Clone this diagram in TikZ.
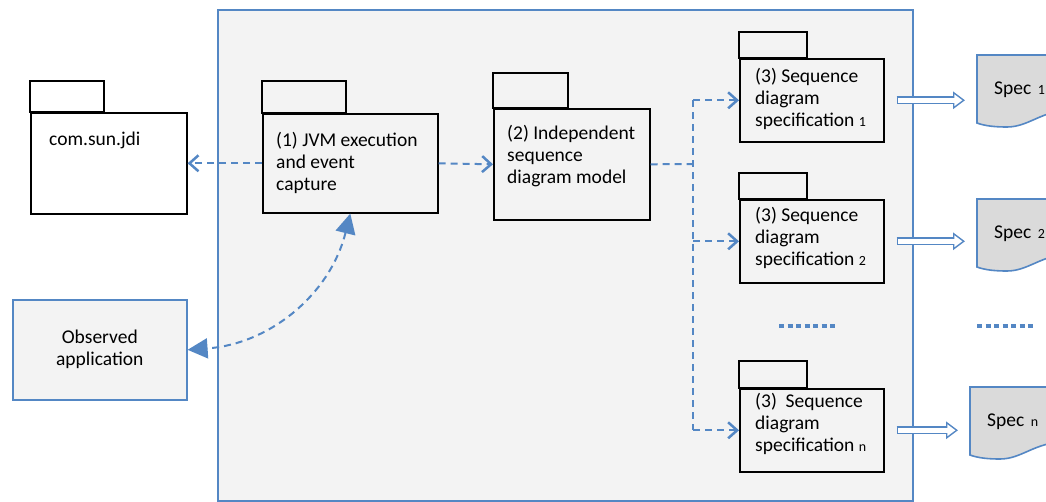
\documentclass[tikz,border=0pt]{standalone}
\usepackage{fontspec}
\setmainfont{Carlito}
\usetikzlibrary{arrows.meta}
\definecolor{linkblue}{RGB}{84,135,196}
\definecolor{panelgray}{RGB}{243,243,243}
\definecolor{docgray}{RGB}{218,218,218}
\newcommand{\idx}[1]{{\fontsize{14}{16}\selectfont #1}}

\begin{document}
\begin{tikzpicture}[x=1pt,y=-1pt,font=\fontsize{19.5}{22}\selectfont,
  pkg/.style={draw=black,line width=1.6pt,fill=panelgray,anchor=north west,inner sep=0pt},
  pkgtext/.style={anchor=north west,align=left,inner sep=0pt},
  dep/.style={draw=linkblue,line width=2pt,dash pattern=on 7pt off 5pt,
    -{Straight Barb[length=9pt,width=16pt,line width=2.5pt]}},
  calls/.style={draw=linkblue,line width=2pt,dash pattern=on 7pt off 5pt,
    {Triangle[length=20pt,width=20pt]}-{Triangle[length=20pt,width=20pt]}},
  specouter/.style={draw=linkblue,line width=8pt,-{Triangle[length=12pt,width=17pt]},
    shorten <=12pt,shorten >=12pt},
  specinner/.style={draw=white,line width=4.5pt,-{Triangle[length=8pt,width=11.3pt]},
    shorten <=13.5pt,shorten >=14.6pt},
  docline/.style={draw=linkblue,line width=1.6pt,fill=docgray},
  spec/.style={anchor=north west,minimum width=95pt,minimum height=70pt,
    inner xsep=17pt,inner ysep=0pt,text width=61pt,align=left},
  dotrow/.style={draw=linkblue,line width=4pt,dash pattern=on 5pt off 3.5pt}]
\useasboundingbox (0,0) rectangle (1046,502);

% tool boundary
\draw[draw=linkblue,line width=1.6pt,fill=panelgray] (218,10) rectangle (913,501);

% packages
\node[pkg,fill=white,minimum width=156pt,minimum height=101pt,
  label={[pkgtext,xshift=19pt,yshift=-19.4pt]north west:com.sun.jdi}] (jdi) at (30,112) {};
\draw[pkg,fill=white] (jdi.north west) rectangle ++(74,-31);

\node[pkg,minimum width=175pt,minimum height=99pt,
  label={[pkgtext,xshift=14pt,yshift=-19.4pt]north west:(1) JVM execution\\and event\\capture}] (jvm) at (262,113) {};
\draw[pkg] (jvm.north west) rectangle ++(84,-32);

\node[pkg,minimum width=156pt,minimum height=111pt,
  label={[pkgtext,xshift=14pt,yshift=-17.4pt]north west:(2) Independent\\sequence\\diagram model}] (seqmodel) at (493,108) {};
\draw[pkg] (seqmodel.north west) rectangle ++(75,-35);

\node[pkg,minimum width=144pt,minimum height=83pt,
  label={[pkgtext,xshift=16pt,yshift=-10.4pt]north west:(3) Sequence\\diagram\\specification \idx{1}}] (seq1) at (739,58) {};
\draw[pkg] (seq1.north west) rectangle ++(68,-26);

\node[pkg,minimum width=144pt,minimum height=83pt,
  label={[pkgtext,xshift=16pt,yshift=-8.4pt]north west:(3) Sequence\\diagram\\specification \idx{2}}] (seq2) at (739,199) {};
\draw[pkg] (seq2.north west) rectangle ++(68,-26);

\node[pkg,minimum width=144pt,minimum height=83pt,
  label={[pkgtext,xshift=16pt,yshift=-5.4pt]north west:(3)\ \ Sequence\\diagram\\specification \idx{n}}] (seqn) at (739,388) {};
\draw[pkg] (seqn.north west) rectangle ++(68,-27);

\node[draw=linkblue,line width=1.6pt,fill=panelgray,anchor=north west,inner sep=0pt,
  minimum width=174pt,minimum height=100pt,align=center] (obs) at (12,299) {Observed\\application};

% generated specs
\foreach \n/\x/\y in {1/977/55,2/977/199,n/970/387}{
  \draw[docline] (\x,\y) -- ++(95,0) -- ++(0,55)
    .. controls +(-30,0) and +(22,0) .. ++(-65,17)
    .. controls +(-12,0) and +(8,3) .. ++(-30,-4) -- cycle;
  \node[spec] (spec\n) at (\x,\y) {Spec \idx{\n}};
  \draw[specouter] (seq\n.east) -- (seq\n.east -| spec\n.west);
  \draw[specinner] (seq\n.east) -- (seq\n.east -| spec\n.west);
}

% connectors
\draw[dep] (jvm.west) -- (jdi.east);
\draw[dep] (jvm.east) -- (seqmodel.west);
\coordinate (fork) at (693,164);
\draw[dep,-] (seqmodel.east) -- (fork);
\draw[dep,-] (fork |- seq1.west) -- (fork |- seqn.west);
\foreach \n in {1,2,n}
  \draw[dep] (fork |- seq\n.west) -- (seq\n.west);
\draw[calls] (jvm.south) to[out=-104,in=4] (obs.east);

\draw[dotrow] (779,326) -- (835,326);
\draw[dotrow] (977,326) -- (1033,326);
\end{tikzpicture}
\end{document}
